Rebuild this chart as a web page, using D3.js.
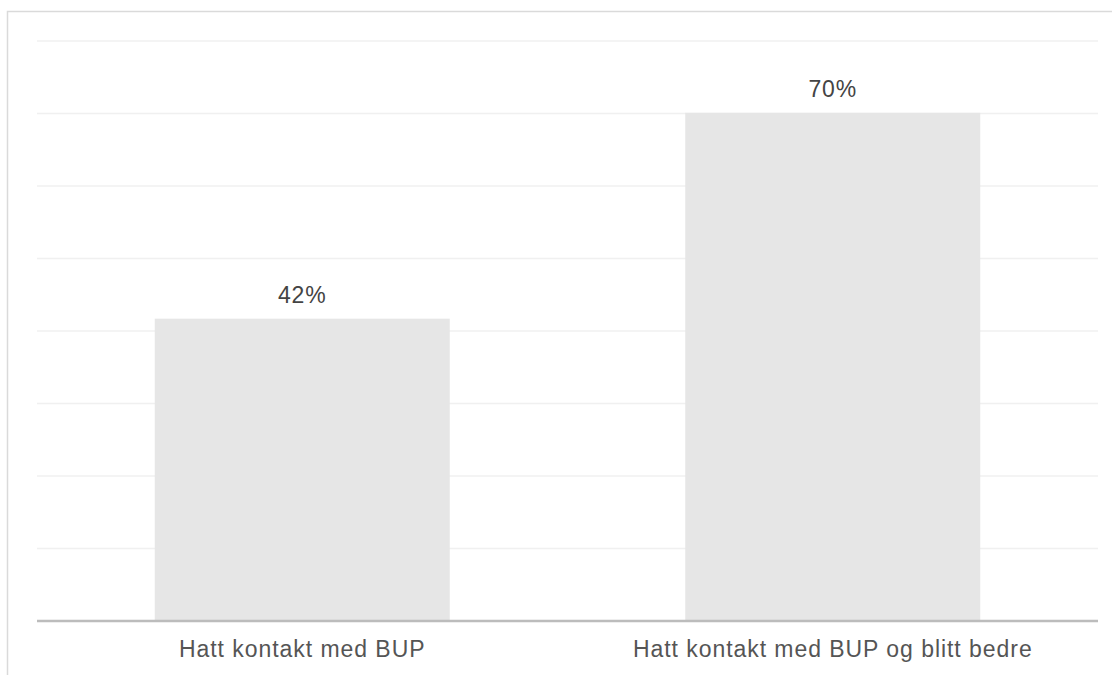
<!DOCTYPE html>
<html>
<head>
<meta charset="utf-8">
<script src="https://cdn.jsdelivr.net/npm/d3@7"></script>
<style>
  body { margin: 0; background: #fff; }
  svg { display: block; font-family: "Liberation Sans", Arial, sans-serif; }
</style>
</head>
<body>
<svg id="chart" width="1112" height="675"></svg>
<script>
// data
const categories = ["Hatt kontakt med BUP", "Hatt kontakt med BUP og blitt bedre"];
const values = [41.7, 70.1];
const gridTicks = [0, 10, 20, 30, 40, 50, 60, 70, 80];

const width = 1112, height = 675;
const margin = {top: 41, right: 14, bottom: 54, left: 37};

const svg = d3.select("#chart");

// outer frame (cut off at right/bottom)
svg.append("rect")
    .attr("x", 7.5).attr("y", 11.5)
    .attr("width", 1200).attr("height", 800)
    .attr("fill", "none")
    .attr("stroke", "#dadada")
    .attr("stroke-width", 1.5);

let x = d3.scaleBand()
    .domain(categories)
    .range([margin.left, width - margin.right])
    .paddingInner(0.444)
    .paddingOuter(0.222);

let y = d3.scaleLinear()
    .domain([0, 80])
    .range([height - margin.bottom, margin.top]);

// gridlines
svg.selectAll("line.grid")
    .data(gridTicks.filter(d => d > 0))
    .enter()
    .append("line")
    .classed("grid", true)
    .attr("x1", margin.left)
    .attr("x2", width - margin.right)
    .attr("y1", d => y(d))
    .attr("y2", d => y(d))
    .attr("stroke", "#f0f0f0")
    .attr("stroke-width", 1.5);

// bars
svg.selectAll("rect.bar")
    .data(values)
    .enter()
    .append("rect")
    .classed("bar", true)
    .attr("x", (d, i) => x(categories[i]))
    .attr("width", x.bandwidth())
    .attr("y", d => y(d))
    .attr("height", d => y(0) - y(d))
    .attr("fill", "#e6e6e6");

// baseline
svg.append("line")
    .attr("x1", margin.left)
    .attr("x2", width - margin.right)
    .attr("y1", y(0))
    .attr("y2", y(0))
    .attr("stroke", "#bcbcbc")
    .attr("stroke-width", 2.5);

// value labels
svg.selectAll("text.value")
    .data(values)
    .enter()
    .append("text")
    .classed("value", true)
    .attr("x", (d, i) => x(categories[i]) + x.bandwidth() / 2)
    .attr("y", d => y(d) - 16)
    .attr("text-anchor", "middle")
    .attr("fill", "#444")
    .style("font-size", "23px")
    .style("letter-spacing", "0.8px")
    .text(d => Math.round(d) + "%");

// category labels
svg.selectAll("text.cat")
    .data(categories)
    .enter()
    .append("text")
    .classed("cat", true)
    .attr("x", d => x(d) + x.bandwidth() / 2)
    .attr("y", y(0) + 36)
    .attr("text-anchor", "middle")
    .attr("fill", "#555")
    .style("font-size", "23px")
    .style("letter-spacing", "0.95px")
    .text(d => d);
</script>
</body>
</html>
